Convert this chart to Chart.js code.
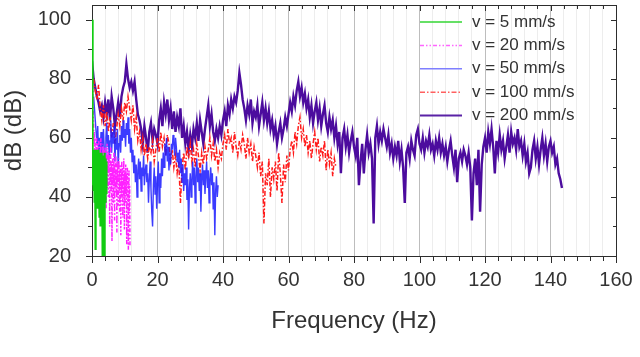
<!DOCTYPE html>
<html>
<head>
<meta charset="utf-8">
<script src="https://cdn.jsdelivr.net/npm/chart.js@4/dist/chart.umd.min.js"></script>
<style>
  html, body { margin: 0; padding: 0; background: #fff; }
  #wrap { width: 640px; height: 357px; }
</style>
</head>
<body>
<div id="wrap"><canvas id="spectrum"></canvas></div>
<script>
// tick labels
let xTicks = [0, 20, 40, 60, 80, 100, 120, 140, 160]
let yTicks = [20, 40, 60, 80, 100]

// series labels
let seriesNames = ['v = 5 mm/s', 'v = 20 mm/s', 'v = 50 mm/s', 'v = 100 mm/s', 'v = 200 mm/s']

// v = 5 mm/s, from 0 Hz every 0.05 Hz
let start5 = 0
let step5 = 0.05
let db5 = [100, 88, 72, 60, 48, 55, 44, 52, 46, 54,
    42, 53, 47, 56, 45, 50, 38, 54, 48, 52,
    44, 55, 22, 51, 46, 53, 41, 56, 49, 45,
    54, 47, 52, 36, 55, 43, 50, 48, 56, 40,
    53, 46, 51, 44, 55, 33, 49, 52, 45, 54,
    41, 50, 47, 55, 30, 48, 53, 43, 51, 46,
    55, 39, 50, 45, 53, 47, 20, 44, 52, 48,
    54, 42, 49, 51, 37, 55, 46, 50, 20, 47,
    53, 44, 51, 38, 49, 45, 52, 41, 47, 43,
    50]

// v = 20 mm/s, from 0.3 Hz every 0.1 Hz
let start20 = 0.3
let step20 = 0.1
let db20 = [78, 70, 64, 58, 62, 54, 60, 50, 57, 48,
    55, 60, 46, 53, 58, 44, 56, 51, 59, 47,
    54, 42, 57, 50, 60, 45, 52, 38, 55, 49,
    58, 46, 53, 40, 56, 50, 44, 57, 48, 52,
    36, 54, 47, 58, 43, 51, 56, 40, 53, 48,
    55, 30, 50, 45, 57, 42, 52, 48, 25, 46,
    53, 44, 50, 38, 55, 47, 32, 51, 43, 49,
    54, 41, 48, 28, 52, 45, 50, 37, 47, 53,
    42, 49, 35, 51, 46, 27, 48, 40, 52, 44,
    50, 33, 47, 41, 53, 45, 29, 49, 38, 46,
    51, 42, 48, 24, 45, 50, 36, 47, 22, 43,
    49, 35, 44, 23]

// v = 50 mm/s, from 0.5 Hz every 0.25 Hz
let start50 = 0.5
let step50 = 0.25
let db50 = [74, 70, 66, 62, 58, 64, 55, 60,
    54, 62, 50, 58, 63, 56, 52, 60,
    65, 57, 61, 53, 59, 66, 55, 62,
    58, 64, 52, 60, 56, 63, 50, 58,
    61, 55, 64, 59, 66, 60, 63, 57,
    65, 61, 67, 58, 63, 55, 60, 52,
    56, 48, 54, 45, 51, 40, 49, 53,
    46, 52, 42, 50, 47, 54, 44, 49,
    51, 45, 48, 38, 46, 52, 43, 35,
    30, 44, 50, 41, 47, 36, 45, 52,
    38, 48, 43, 53, 47, 55, 50, 58,
    54, 60, 52, 57, 49, 55, 51, 58,
    56, 61, 58, 54, 60, 57, 52, 55,
    50, 56, 48, 53, 45, 51, 42, 48,
    44, 50, 39, 46, 29, 43, 48, 40,
    46, 52, 44, 50, 38, 47, 53, 45,
    50, 42, 48, 35, 46, 51, 44, 49,
    41, 47, 52, 43, 49, 38, 46, 50,
    44, 48, 36, 45, 27, 42, 47, 40, 44]

// v = 100 mm/s, from 0.5 Hz every 0.5 Hz
let start100 = 0.5
let step100 = 0.5
let db100 = [80, 76, 73, 78, 70, 66, 71, 64, 69, 62,
    67, 60, 65, 58, 63, 68, 64, 70, 66, 72,
    69, 74, 70, 66, 71, 63, 67, 59, 62, 56,
    60, 54, 58, 53, 57, 55, 59, 52, 56, 60,
    55, 62, 57, 60, 54, 61, 58, 52, 56, 50,
    54, 48, 52, 38, 50, 55, 49, 57, 53, 58,
    52, 56, 50, 58, 54, 49, 55, 51, 57, 53,
    56, 60, 54, 58, 52, 56, 50, 55, 53, 58,
    61, 56, 63, 58, 60, 55, 62, 57, 54, 59,
    56, 61, 58, 53, 60, 55, 58, 52, 57, 54,
    50, 55, 47, 52, 31, 48, 44, 53, 40, 50,
    46, 52, 42, 55, 48, 38, 51, 45, 54, 49,
    56, 59, 55, 62, 58, 64, 67, 60, 63, 57,
    61, 55, 59, 53, 58, 62, 56, 60, 52, 57,
    54, 59, 49, 56, 51, 55, 47, 53, 50]

// v = 200 mm/s, from 0 Hz every 0.5 Hz
let start200 = 0
let step200 = 0.5
let db200 = [86, 80, 77, 74, 72, 69, 71, 67, 72, 68,
    73, 66, 74, 70, 64, 68, 72, 67, 74, 77,
    79, 85, 80, 77, 79, 76, 79, 73, 68, 66,
    63, 58, 64, 60, 55, 62, 65, 59, 63, 61,
    58, 66, 70, 64, 72, 68, 73, 66, 70, 63,
    69, 62, 67, 64, 70, 60, 64, 58, 62, 56,
    61, 57, 63, 60, 65, 59, 66, 62, 58, 63,
    67, 71, 64, 68, 62, 59, 63, 60, 64, 61,
    66, 69, 64, 71, 68, 73, 70, 74, 72, 76,
    82, 78, 73, 70, 66, 71, 68, 73, 65, 69,
    67, 71, 64, 68, 72, 66, 70, 65, 69, 63,
    66, 61, 64, 58, 62, 65, 60, 63, 67, 64,
    68, 72, 69, 74, 71, 76, 79, 74, 77, 72,
    75, 70, 73, 67, 71, 65, 69, 72, 66, 70,
    64, 68, 71, 65, 62, 67, 63, 66, 60, 64,
    58, 62, 48, 60, 63, 57, 61, 55, 59, 62,
    57, 54, 60, 44, 52, 58, 48, 56, 61, 55,
    58, 53, 31, 60, 64, 58, 62, 59, 63, 60,
    57, 61, 55, 58, 53, 57, 54, 59, 52, 56,
    50, 38, 55, 57, 53, 59, 56, 54, 61, 63,
    58, 56, 60, 55, 59, 57, 61, 56, 58, 54,
    59, 56, 60, 55, 58, 54, 57, 52, 56, 59,
    54, 50, 56, 45, 53, 55, 52, 56, 54, 51,
    55, 50, 32, 48, 53, 44, 56, 35, 51, 57,
    60, 55, 62, 58, 63, 57, 48, 59, 55, 61,
    56, 59, 53, 57, 61, 55, 62, 58, 60, 56,
    63, 57, 59, 54, 58, 52, 55, 48, 50, 56,
    59, 53, 57, 51, 56, 60, 54, 58, 52, 57,
    59, 55, 57, 51, 53, 48, 46, 43]

function toPoints(start, step, values) {
    return values.map(function (v, i) {
        return { x: start + i * step, y: v }
    })
}

let fontName = '"Liberation Sans", Arial, sans-serif'
let textColor = '#333333'
let frameColor = '#2d2d2d'

let lineStyles = [
    { color: '#11cc11', width: 2.2, dash: [] },
    { color: '#ff22ff', width: 1.5, dash: [4, 2, 1.5, 2, 1.5, 2] },
    { color: 'rgba(25,25,255,0.85)', width: 1.4, dash: [] },
    { color: '#ff1a1a', width: 1.5, dash: [5, 2, 1.5, 2] },
    { color: '#4c0c9e', width: 2.4, dash: [] }
]
let legendColors = ['#33d633', '#ff66ff', '#7f7fff', '#ff6060', '#5a22a6']

let seriesData = [
    toPoints(start5, step5, db5),
    toPoints(start20, step20, db20),
    toPoints(start50, step50, db50),
    toPoints(start100, step100, db100),
    toPoints(start200, step200, db200)
]

let datasets = seriesData.map(function (pts, i) {
    return {
        label: seriesNames[i],
        data: pts,
        borderColor: lineStyles[i].color,
        borderWidth: lineStyles[i].width,
        borderDash: lineStyles[i].dash.slice(),
        pointRadius: 0,
        fill: false,
        tension: 0
    }
})

// frame and minor/major tick marks on all four sides.
// drawn before the datasets: after them the canvas keeps a clip to the plot area
let framePlugin = {
    id: 'frame',
    beforeDatasetsDraw: function (chart) {
        let ctx = chart.ctx
        let xs = chart.scales.x
        let ys = chart.scales.y
        let x0 = Math.round(xs.getPixelForValue(0))
        let x1 = Math.round(xs.getPixelForValue(160))
        let y0 = Math.round(ys.getPixelForValue(105))
        let y1 = Math.round(ys.getPixelForValue(20))
        ctx.save()
        ctx.fillStyle = frameColor
        ctx.fillRect(x0, y0, x1 - x0 + 1, 1)
        ctx.fillRect(x0, y1, x1 - x0 + 1, 1)
        ctx.fillRect(x0, y0, 1, y1 - y0 + 1)
        ctx.fillRect(x1, y0, 1, y1 - y0 + 1)
        for (let f = 0; f <= 160; f += 4) {
            let px = Math.round(xs.getPixelForValue(f))
            let major = f % 20 === 0
            ctx.fillRect(px, y1, 1, major ? 7 : 5)
            ctx.fillRect(px, y0, 1, major ? 6 : 4)
        }
        for (let v = 20; v <= 100; v += 10) {
            let py = Math.round(ys.getPixelForValue(v))
            let major = v % 20 === 0
            ctx.fillRect(x0 - (major ? 6 : 4), py, major ? 7 : 5, 1)
            ctx.fillRect(x1 - (major ? 5 : 3), py, major ? 6 : 4, 1)
        }
        ctx.restore()
    }
}

// legend inside the plot, top right
let legendPlugin = {
    id: 'insetLegend',
    afterDraw: function (chart) {
        let ctx = chart.ctx
        ctx.save()
        ctx.font = '17px ' + fontName
        ctx.textBaseline = 'middle'
        ctx.textAlign = 'left'
        for (let i = 0; i < seriesNames.length; i++) {
            let y = 22 + i * 23.4
            ctx.beginPath()
            ctx.strokeStyle = legendColors[i]
            ctx.lineWidth = i === 4 ? 2 : 1.5
            ctx.setLineDash(lineStyles[i].dash.slice())
            ctx.moveTo(420, y)
            ctx.lineTo(462, y)
            ctx.stroke()
            ctx.setLineDash([])
            ctx.fillStyle = textColor
            ctx.fillText(seriesNames[i], 472, y)
        }
        ctx.restore()
    }
}

let spectrumChart = new Chart(document.getElementById('spectrum'), {
    type: 'line',
    data: { datasets: datasets },
    options: {
        responsive: true,
        maintainAspectRatio: false,
        animation: false,
        events: [],
        layout: { padding: { top: 5, right: 24, left: 0, bottom: 0 } },
        plugins: {
            legend: { display: false },
            tooltip: { enabled: false }
        },
        scales: {
            x: {
                type: 'linear',
                min: 0,
                max: 160,
                border: { display: false },
                grid: {
                    drawTicks: false,
                    color: function (c) {
                        return c.tick && c.tick.value % 20 === 0 ? '#bdbdbd' : '#ededed'
                    }
                },
                ticks: {
                    stepSize: 4,
                    autoSkip: false,
                    maxRotation: 0,
                    minRotation: 0,
                    padding: 12,
                    color: textColor,
                    font: { family: fontName, size: 20 },
                    callback: function (v) { return xTicks.indexOf(v) >= 0 ? String(v) : '' }
                },
                title: {
                    display: true,
                    text: 'Frequency (Hz)',
                    color: textColor,
                    font: { family: fontName, size: 24 },
                    padding: { top: 0, bottom: 21 }
                },
                afterFit: function (s) { s.height = 101; s.paddingRight = 0 }
            },
            y: {
                min: 20,
                max: 105,
                border: { display: false },
                grid: { display: false },
                afterBuildTicks: function (s) {
                    s.ticks = yTicks.map(function (v) { return { value: v } })
                },
                ticks: {
                    padding: 13,
                    color: textColor,
                    font: { family: fontName, size: 20 }
                },
                title: {
                    display: true,
                    text: 'dB (dB)',
                    color: textColor,
                    font: { family: fontName, size: 24 },
                    padding: { top: 0, bottom: 0 }
                },
                afterFit: function (s) { s.width = 92; s.paddingTop = 0 }
            }
        }
    },
    plugins: [framePlugin, legendPlugin]
})
</script>
</body>
</html>
